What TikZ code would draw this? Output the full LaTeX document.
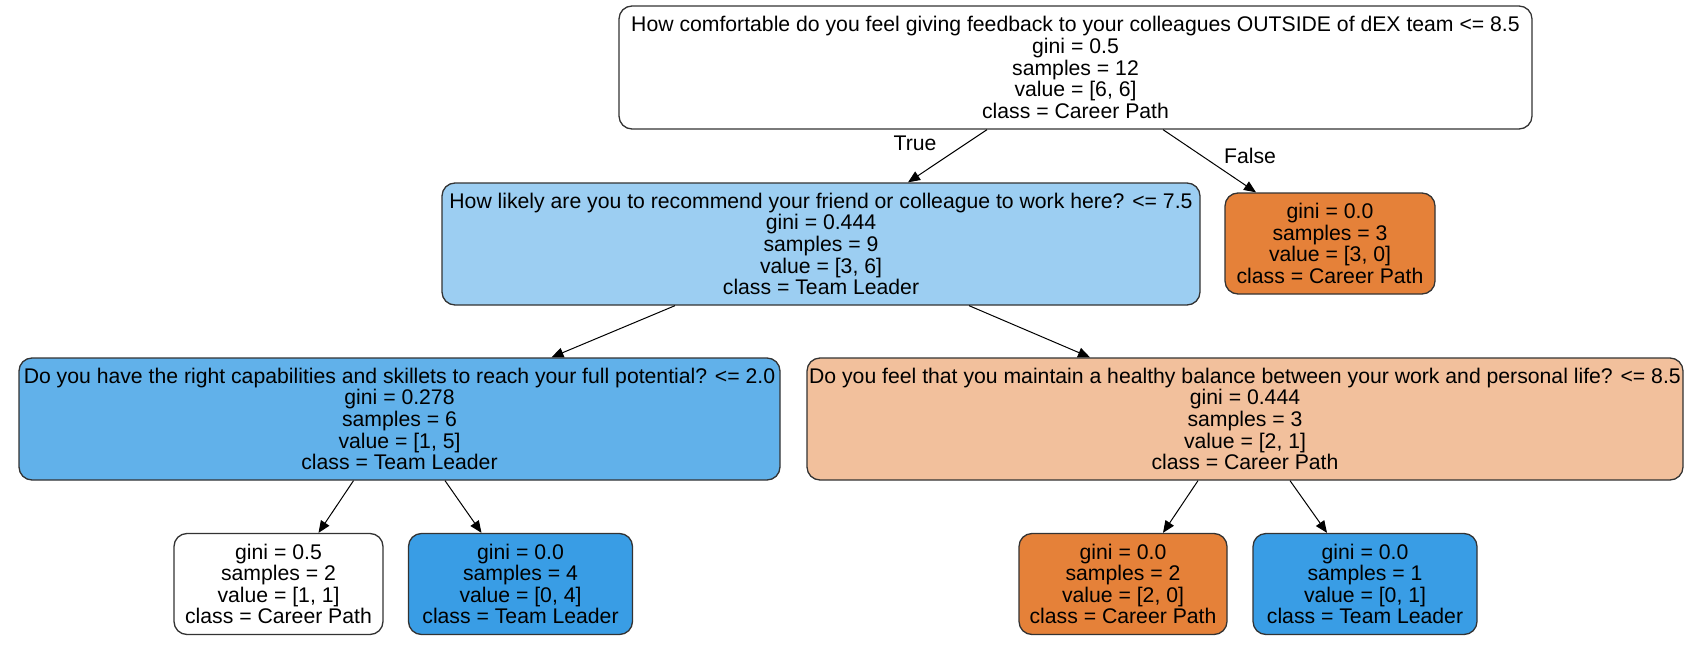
\documentclass[tikz,border=0pt]{standalone}
\usepackage{fontspec}
\setmainfont{Liberation Sans}
\usetikzlibrary{arrows.meta,calc}
\definecolor{edgegray}{HTML}{333333}
\definecolor{blueA}{HTML}{9CCEF2}
\definecolor{blueB}{HTML}{61B1EA}
\definecolor{blueC}{HTML}{399DE5}
\definecolor{orangeA}{HTML}{E58139}
\definecolor{orangeB}{HTML}{F2C09C}
\tikzset{
  tree/.style={draw=edgegray, line width=0.65pt, rounded corners=6.5pt, align=center, inner sep=0pt,
    font=\fontsize{10.6pt}{10.8pt}\selectfont},
  edge/.style={draw=black, line width=0.5pt, -{Triangle[length=6pt,width=5pt]}},
  elabel/.style={font=\fontsize{10.6pt}{10.8pt}\selectfont, inner sep=0pt}
}
\begin{document}
\begin{tikzpicture}[x=0.5pt,y=-0.5pt]
\useasboundingbox (0,0) rectangle (1691,647);
\node[tree, fill=white, minimum width=456.5pt, minimum height=61.5pt] (root) at (1075.5,67.5)
 {How comfortable do you feel giving feedback to your colleagues OUTSIDE of dEX team <= 8.5\\gini = 0.5\\samples = 12\\value = [6, 6]\\class = Career Path};
\node[tree, fill=blueA, minimum width=379pt, minimum height=61pt] (n1) at (821,244)
 {How likely are you to recommend your friend or colleague to work here? <= 7.5\\gini = 0.444\\samples = 9\\value = [3, 6]\\class = Team Leader};
\node[tree, fill=orangeA, minimum width=105pt, minimum height=50.5pt] (r1) at (1330,243.5)
 {gini = 0.0\\samples = 3\\value = [3, 0]\\class = Career Path};
\node[tree, fill=blueB, minimum width=380.5pt, minimum height=61pt] (n2l) at (399.5,419)
 {Do you have the right capabilities and skillets to reach your full potential? <= 2.0\\gini = 0.278\\samples = 6\\value = [1, 5]\\class = Team Leader};
\node[tree, fill=orangeB, minimum width=438pt, minimum height=61pt] (n2r) at (1245,419)
 {Do you feel that you maintain a healthy balance between your work and personal life? <= 8.5\\gini = 0.444\\samples = 3\\value = [2, 1]\\class = Career Path};
\node[tree, fill=white, minimum width=104.5pt, minimum height=50.5pt] (l1) at (278.5,584)
 {gini = 0.5\\samples = 2\\value = [1, 1]\\class = Career Path};
\node[tree, fill=blueC, minimum width=112pt, minimum height=50.5pt] (l2) at (520.5,584)
 {gini = 0.0\\samples = 4\\value = [0, 4]\\class = Team Leader};
\node[tree, fill=orangeA, minimum width=104pt, minimum height=50.5pt] (l3) at (1123,584)
 {gini = 0.0\\samples = 2\\value = [2, 0]\\class = Career Path};
\node[tree, fill=blueC, minimum width=112pt, minimum height=50.5pt] (l4) at (1365,584)
 {gini = 0.0\\samples = 1\\value = [0, 1]\\class = Team Leader};
\draw[edge] ($(root.south)+(-88.5,0)$) -- ($(n1.north)+(87,0)$);
\draw[edge] ($(root.south)+(87.5,0)$) -- ($(r1.north)+(-74,0)$);
\draw[edge] ($(n1.south)+(-146,0)$) -- ($(n2l.north)+(152,0)$);
\draw[edge] ($(n1.south)+(148,0)$) -- ($(n2r.north)+(-155,0)$);
\draw[edge] ($(n2l.south)+(-46,0)$) -- ($(l1.north)+(40,0)$);
\draw[edge] ($(n2l.south)+(45.5,0)$) -- ($(l2.north)+(-39,0)$);
\draw[edge] ($(n2r.south)+(-47,0)$) -- ($(l3.north)+(40,0)$);
\draw[edge] ($(n2r.south)+(45,0)$) -- ($(l4.north)+(-38,0)$);
\node[elabel] (t) at (915,143) {True};
\node[elabel] (f) at (1250,156) {False};
\end{tikzpicture}
\end{document}
